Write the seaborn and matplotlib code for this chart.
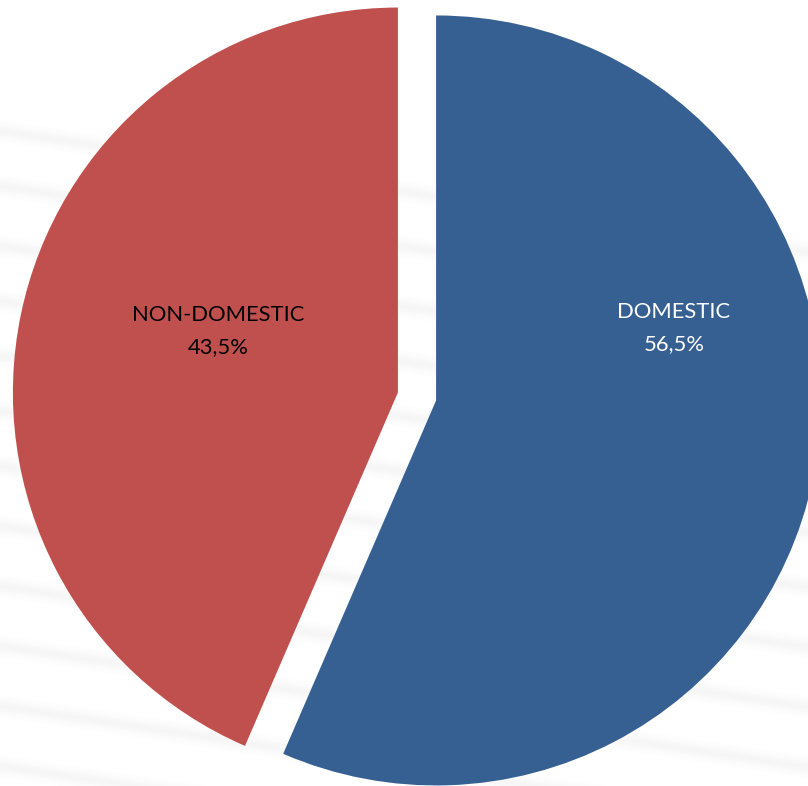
import matplotlib
matplotlib.use("Agg")
import matplotlib.pyplot as plt
import numpy as np
import seaborn as sns

sns.set_theme(style="white")
plt.rcParams["font.family"] = ["Lato", "DejaVu Sans"]

categories = ["DOMESTIC", "NON-DOMESTIC"]
shares = [56.5, 43.5]
colors = ["#376092", "#C0504D"]
label_colors = ["white", "black"]

W, H = 808, 786
fig = plt.figure(figsize=(W / 100, H / 100), dpi=100)
ax = fig.add_axes([0, 0, 1, 1])

# faint, soft slanted streaks in the backdrop
xs = np.array([0, W])
for y0 in [120, 175, 235, 290, 345, 400, 455, 515, 575, 635, 695, 755]:
    for k in range(6):
        top = H - (y0 + 0.15 * xs + k * 3)
        ax.fill_between(xs, top, top - 22 + k * 6, color="#e8e8e8",
                        alpha=0.06, linewidth=0, zorder=0)

center = (417, H - 396.5)
radius = 385
offset = 19.5  # separation of each slice from the centre

wedges, _ = ax.pie(
    shares,
    colors=colors,
    startangle=90,
    counterclock=False,
    explode=[offset, offset],
    center=center,
    radius=radius,
    wedgeprops=dict(linewidth=0, zorder=2),
)

ax.set_xlim(0, W)
ax.set_ylim(0, H)
ax.set_aspect("equal")
ax.axis("off")

# data labels: category name and share (comma decimal)
label_pos = [(674, H - 328), (218, H - 331)]
for name, val, pos, tc in zip(categories, shares, label_pos, label_colors):
    ax.text(pos[0], pos[1], f"{name}\n{val:.1f}%".replace(".", ","),
            ha="center", va="center", fontsize=15.8, color=tc,
            linespacing=1.75, zorder=3)

fig.savefig("out.png", dpi=100)
